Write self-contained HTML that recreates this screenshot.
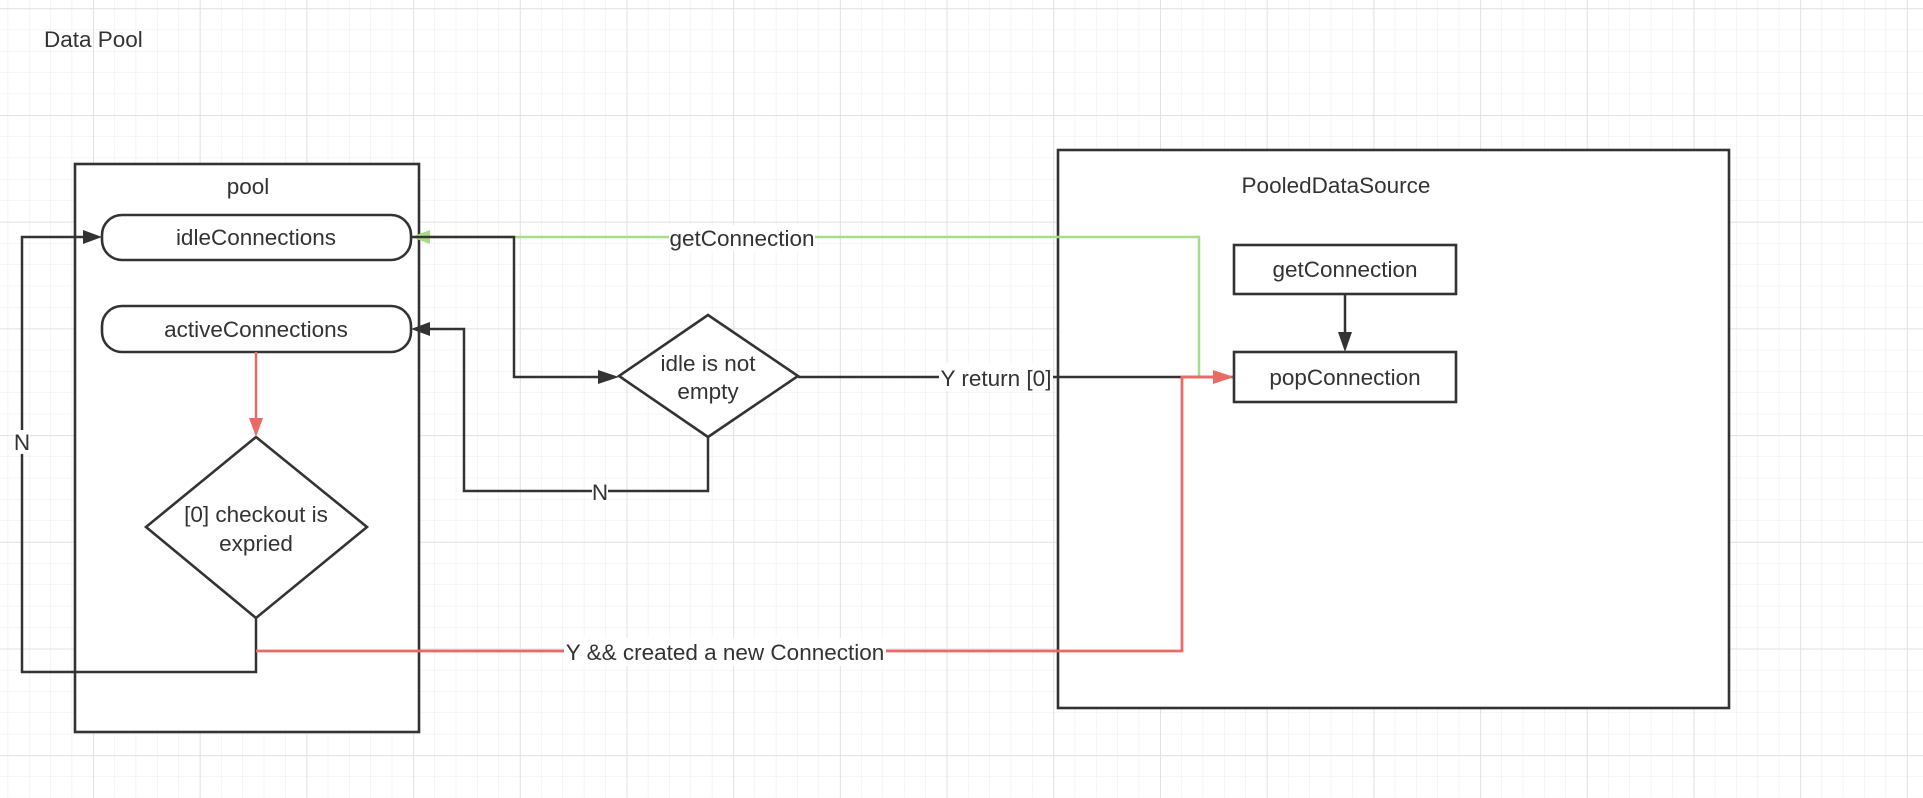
<!DOCTYPE html>
<html><head><meta charset="utf-8"><style>
html,body{margin:0;padding:0;background:#fff}
svg{display:block}
text{font-family:"Liberation Sans",Arial,sans-serif;fill:#333;font-size:22.5px}
</style></head><body>
<svg width="1923" height="798" viewBox="0 0 1923 798" xmlns="http://www.w3.org/2000/svg">
<defs>
<pattern id="minor" x="93" y="8.3" width="21.34" height="21.34" patternUnits="userSpaceOnUse">
<path d="M0 0H21.34M0 0V21.34" stroke="#ebebeb" stroke-width="1" fill="none"/>
</pattern>
<pattern id="major" x="93" y="8.3" width="106.7" height="106.7" patternUnits="userSpaceOnUse">
<path d="M0 0H106.7M0 0V106.7" stroke="#e2e2e2" stroke-width="2" fill="none"/>
</pattern>
</defs>
<rect width="1923" height="798" fill="#fff"/>
<rect width="1923" height="798" fill="url(#minor)"/>
<rect width="1923" height="798" fill="url(#major)"/>

<text x="44" y="47" font-size="22">Data Pool</text>

<g stroke="#333" stroke-width="2.6" fill="#fff">
<rect x="75" y="164" width="344" height="568"/>
<rect x="102" y="215" width="309" height="45" rx="20"/>
<rect x="102" y="306" width="309" height="46" rx="20"/>
<polygon points="256,437 367,527 256,618 146,527"/>
<rect x="1058" y="150" width="671" height="558"/>
<rect x="1234" y="245" width="222" height="49"/>
<rect x="1234" y="352" width="222" height="50"/>
<polygon points="708,315 798,376 708,437 619,376"/>
</g>
<text x="248" y="194" text-anchor="middle">pool</text>
<text x="256" y="245" text-anchor="middle">idleConnections</text>
<text x="256" y="337" text-anchor="middle">activeConnections</text>
<text x="256" y="522" text-anchor="middle">[0] checkout is</text>
<text x="256" y="551" text-anchor="middle">expried</text>
<text x="1336" y="193" text-anchor="middle">PooledDataSource</text>
<text x="1345" y="277" text-anchor="middle">getConnection</text>
<text x="1345" y="385" text-anchor="middle">popConnection</text>
<text x="708" y="371" text-anchor="middle">idle is not</text>
<text x="708" y="399" text-anchor="middle">empty</text>

<line x1="1345" y1="294" x2="1345" y2="334" stroke="#333" stroke-width="2.5"/>
<polygon points="1338,332 1352,332 1345,352" fill="#333"/>

<!-- green getConnection -->
<polyline points="1199,377 1199,237 430,237" fill="none" stroke="#a6dc8a" stroke-width="2.5"/>
<polygon points="411,237 430,230 430,244" fill="#a6dc8a"/>
<rect x="669" y="225" width="146" height="26" fill="#fff"/>
<text x="742" y="246" text-anchor="middle">getConnection</text>

<polyline points="411,237 514,237 514,377 598,377" fill="none" stroke="#333" stroke-width="2.5"/>
<polygon points="619,377 598,370 598,384" fill="#333"/>

<line x1="798" y1="377" x2="1234" y2="377" stroke="#333" stroke-width="2.5"/>
<rect x="939" y="363" width="114" height="28" fill="#fff"/>
<text x="996" y="386" text-anchor="middle">Y return [0]</text>

<polyline points="708,437 708,491 464,491 464,329 430,329" fill="none" stroke="#333" stroke-width="2.5"/>
<polygon points="411,329 430,322 430,336" fill="#333"/>
<rect x="592" y="480" width="16" height="24" fill="#fff"/>
<text x="600" y="500" text-anchor="middle">N</text>

<line x1="256" y1="352" x2="256" y2="420" stroke="#ea6b66" stroke-width="2.5"/>
<polygon points="249,418 263,418 256,437" fill="#ea6b66"/>

<polyline points="256,618 256,672 22,672 22,237 83,237" fill="none" stroke="#333" stroke-width="2.5"/>
<polygon points="102,237 83,230 83,244" fill="#333"/>
<rect x="14" y="430" width="16" height="24" fill="#fff"/>
<text x="22" y="450" text-anchor="middle">N</text>

<polyline points="256,651 1182,651 1182,377 1214,377" fill="none" stroke="#ea6b66" stroke-width="2.8"/>
<polygon points="1234,377 1213,370 1213,384" fill="#ea6b66"/>
<rect x="564" y="638" width="322" height="28" fill="#fff"/>
<text x="725" y="660" text-anchor="middle">Y &amp;&amp; created a new Connection</text>
</svg>
</body></html>
